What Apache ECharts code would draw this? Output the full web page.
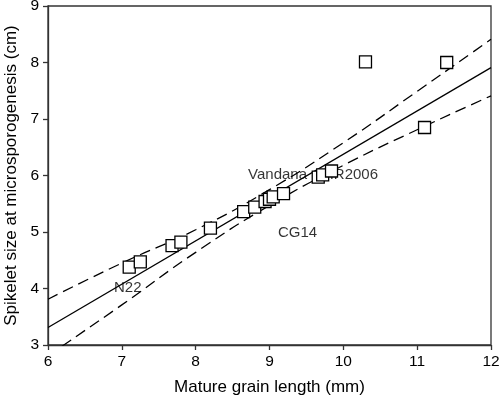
<!DOCTYPE html>
<html>
<head>
    <meta charset="utf-8">
    <title>Spikelet size vs grain length</title>
    <script src="https://cdn.jsdelivr.net/npm/echarts@6/dist/echarts.min.js"></script>
    <style>
        html, body { margin: 0; padding: 0; background: #fff; }
    </style>
</head>
<body>
<div id="chart1" style="width:500px;height:396px;"></div>
<script type="text/javascript">
    // 数据
    var grainLen = [7.10, 7.25, 7.68, 7.80, 8.20, 8.65, 8.80, 8.94, 9.00, 9.05, 9.19, 9.66, 9.72, 9.84, 10.30, 11.10, 11.40];
    var spikelet = [4.38, 4.47, 4.76, 4.82, 5.07, 5.36, 5.44, 5.54, 5.58, 5.62, 5.68, 5.97, 6.01, 6.08, 8.01, 6.85, 8.00];

    var fitX = [6, 12];
    var fitY = [3.31, 7.91];

    var bandX = [6, 7, 8, 9, 10, 11, 12];
    var bandUpper = [3.81, 4.45, 5.04, 5.75, 6.58, 7.49, 8.41];
    var bandLower = [2.81, 3.71, 4.64, 5.47, 6.18, 6.81, 7.41];

    var labelNames = ['N22', 'CG14', 'Vandana', 'IR2006'];
    var labelX = [7.08, 9.38, 8.71, 10.47];
    var labelY = [4.01, 4.99, 6.01, 6.01];
    var labelAlign = ['center', 'center', 'left', 'right'];

    var xTicks = [6, 7, 8, 9, 10, 11, 12];
    var yTicks = [3, 4, 5, 6, 7, 8, 9];

    function pairs(xs, ys) {
        return xs.map(function (x, i) { return [x, ys[i]]; });
    }

    var myChart1 = echarts.init(document.getElementById('chart1'));
    var font = 'Liberation Sans, Arial, sans-serif';
    var dash = [11, 6];

    myChart1.setOption({
        animation: false,
        grid: {
            left: 48, right: 9, top: 6, bottom: 51,
            outerBoundsMode: 'none',
            show: true, borderColor: '#333', borderWidth: 1.3
        },
        xAxis: {
            type: 'value',
            min: xTicks[0], max: xTicks[xTicks.length - 1], interval: 1,
            name: 'Mature grain length (mm)',
            nameLocation: 'middle', nameGap: 34,
            nameTextStyle: { color: '#000', fontSize: 17, fontFamily: font },
            axisLine: { lineStyle: { color: '#333', width: 1.3 } },
            axisTick: { show: true, length: 5, lineStyle: { color: '#333', width: 1.3 } },
            axisLabel: { color: '#000', fontSize: 15.5, fontFamily: font, margin: 9 },
            splitLine: { show: false }
        },
        yAxis: {
            type: 'value',
            min: yTicks[0], max: yTicks[yTicks.length - 1], interval: 1,
            name: 'Spikelet size at microsporogenesis (cm)',
            nameLocation: 'middle', nameGap: 27,
            nameTextStyle: { color: '#000', fontSize: 17, fontFamily: font },
            axisLine: { lineStyle: { color: '#333', width: 1.3 } },
            axisTick: { show: true, length: 5, lineStyle: { color: '#333', width: 1.3 } },
            axisLabel: { color: '#000', fontSize: 15.5, fontFamily: font, margin: 9 },
            splitLine: { show: false }
        },
        series: [
            {
                name: 'upper', type: 'line', smooth: true, symbol: 'none', clip: true,
                data: pairs(bandX, bandUpper),
                lineStyle: { color: '#000', width: 1.3, type: dash }
            },
            {
                name: 'lower', type: 'line', smooth: true, symbol: 'none', clip: true,
                data: pairs(bandX, bandLower),
                lineStyle: { color: '#000', width: 1.3, type: dash }
            },
            {
                name: 'fit', type: 'line', symbol: 'none', clip: true,
                data: pairs(fitX, fitY),
                lineStyle: { color: '#000', width: 1.3 }
            },
            {
                name: 'labels', type: 'scatter', symbolSize: 0, z: 3,
                data: labelNames.map(function (n, i) {
                    return {
                        value: [labelX[i], labelY[i]],
                        label: {
                            show: true, position: 'inside', formatter: n, align: labelAlign[i],
                            color: '#000', fontSize: 15, fontFamily: font
                        }
                    };
                })
            },
            {
                name: 'points', type: 'scatter', symbol: 'rect', symbolSize: 12, z: 5,
                data: pairs(grainLen, spikelet),
                itemStyle: { color: '#fff', borderColor: '#000', borderWidth: 1.3, opacity: 1 }
            }
        ]
    });
</script>
</body>
</html>
